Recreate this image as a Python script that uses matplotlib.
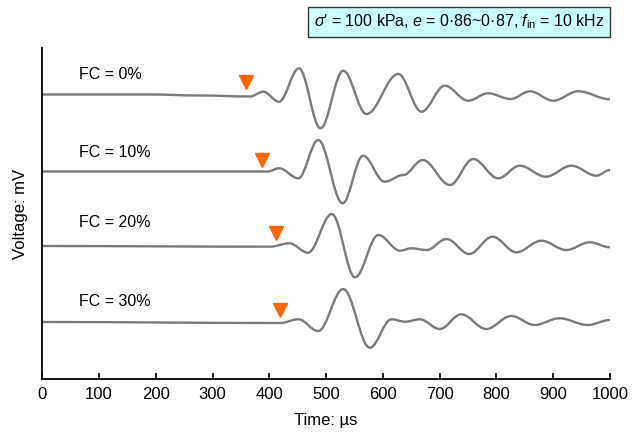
import numpy as np
import matplotlib.pyplot as plt
from matplotlib.path import Path
from matplotlib.patches import PathPatch

plt.rcParams['font.family'] = ['Liberation Sans', 'DejaVu Sans']
plt.rcParams['mathtext.fontset'] = 'custom'
plt.rcParams['mathtext.rm'] = 'Liberation Sans'
plt.rcParams['mathtext.it'] = 'Liberation Sans:italic'

# turning points: time (us) and amplitude (arbitrary mV units)
t_fc0 = [0, 190, 278, 366, 389, 417, 452, 490, 530, 571, 627, 668, 709, 750, 785, 825, 859, 900, 944, 1000]
v_fc0 = [0.5, 0.5, -0.5, -1.5, 3.3, -6.7, 26.7, -33.3, 24.3, -19, 21, -16.7, 9.3, -5.7, 1.7, -4, 3.7, -5.7, 3.7, -4.3]

t_fc10 = [0, 397, 417, 451, 486, 529, 565, 603, 636, 670, 718, 759, 803, 841, 887, 932, 976, 1000]
v_fc10 = [0, 0, 3.2, -6.8, 31.5, -31.8, 15.8, -10.2, -3.5, 11.5, -13.5, 12.5, -6.8, 5.8, -5.2, 5.8, -4.2, 1.5]

t_fc20 = [0, 401, 435, 468, 510, 551, 592, 630, 650, 677, 712, 752, 793, 835, 879, 923, 964, 1000]
v_fc20 = [0, -0.7, 2.7, -6.7, 32, -31.3, 11, -4.7, -2.3, -4, 7, -8, 9.3, -6.3, 5.3, -4, 3.7, -1.3]

t_fc30 = [0, 419, 451, 486, 530, 577, 615, 639, 665, 700, 738, 782, 826, 867, 911, 961, 1000]
v_fc30 = [0, -1, 2.7, -9, 33, -25.7, 2.7, 0.3, 2.7, -7, 7.7, -7, 6, -3, 3.7, -3, 2]

labels = ['FC = 0%', 'FC = 10%', 'FC = 20%', 'FC = 30%']
offsets = [284, 207.5, 133, 57]
label_y = [305, 227, 157, 77]

# arrival picks (orange triangles)
arrival_t = [359, 387, 411, 419]
arrival_v = [13, 11.5, 13.3, 12]

traces = [(t_fc0, v_fc0), (t_fc10, v_fc10), (t_fc20, v_fc20), (t_fc30, v_fc30)]


def wave_path(t, v, off):
    # smooth curve through the turning points, flat tangent at each one
    verts = [(t[0], v[0] + off)]
    codes = [Path.MOVETO]
    for i in range(1, len(t)):
        dt = t[i] - t[i - 1]
        verts += [(t[i - 1] + 0.36 * dt, v[i - 1] + off),
                  (t[i] - 0.36 * dt, v[i] + off),
                  (t[i], v[i] + off)]
        codes += [Path.CURVE4] * 3
    return Path(verts, codes)


fig = plt.figure(figsize=(6.37, 4.36), dpi=100)
ax = fig.add_axes([42.3 / 637, 1 - 379 / 436, 567.7 / 637, 331 / 436])

for (t, v), off, lab, ly, at, av in zip(traces, offsets, labels, label_y, arrival_t, arrival_v):
    ax.add_patch(PathPatch(wave_path(t, v, off), facecolor='none', edgecolor='#7a7a7a',
                           lw=1.7, capstyle='round', joinstyle='round'))
    ax.plot(at, off + av, marker='v', color='#ff6600', markersize=10, linestyle='none')
    ax.text(65, ly, lab, fontsize=11.5, ha='left', va='center')

ax.set_xlim(0, 1000)
ax.set_ylim(0, 331)
ax.set_xticks(np.arange(0, 1001, 100))
ax.set_yticks([])
ax.tick_params(axis='x', direction='in', length=4, width=1.2, labelsize=12, pad=6)
for s in ['top', 'right']:
    ax.spines[s].set_visible(False)
for s in ['left', 'bottom']:
    ax.spines[s].set_linewidth(1.3)

ax.set_xlabel('Time: µs', fontsize=12, labelpad=8)
ax.set_ylabel('Voltage: mV', fontsize=12, labelpad=10)

fig.text(459 / 637, 1 - 22 / 436,
         "$\\sigma$′ = 100 kPa, $e$ = 0·86~0·87, $f_{\\rm in}$ = 10 kHz",
         fontsize=11.5, ha='center', va='center',
         bbox=dict(boxstyle='square,pad=0.35', facecolor='#ccffff', edgecolor='#333333', lw=1))

fig.savefig('out.png', dpi=100)
